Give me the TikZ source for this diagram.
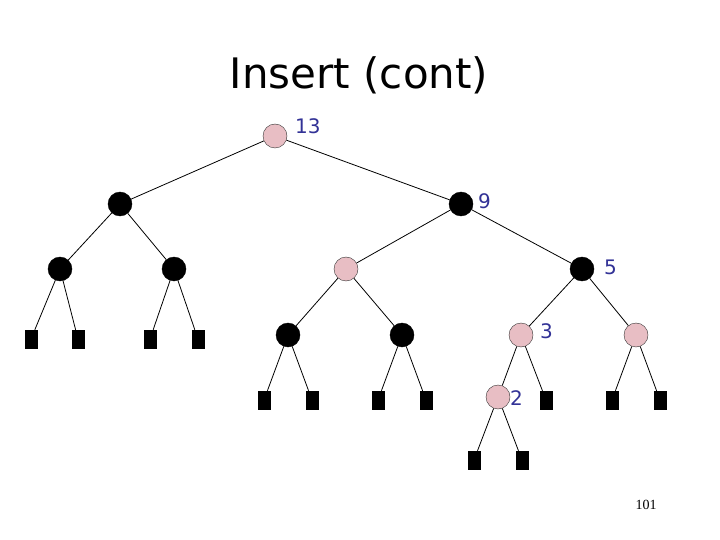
\documentclass[tikz,border=0pt]{standalone}
\usepackage{fontspec}
\setmainfont{DejaVu Sans}
\newfontfamily\numfont{Liberation Serif}
\definecolor{pinkfill}{RGB}{232,190,196}
\definecolor{labblue}{RGB}{50,50,150}
\begin{document}
\begin{tikzpicture}[x=1pt,y=-1pt,
  blk/.style={circle,fill=black,draw=black,minimum size=24pt,inner sep=0pt},
  pnk/.style={circle,fill=pinkfill,draw=black!80,minimum size=24pt,inner sep=0pt},
  leaf/.style={rectangle,fill=black,draw=black,minimum width=12pt,minimum height=18pt,inner sep=0pt},
  lab/.style={anchor=west,text=labblue,font=\fontsize{20}{24}\selectfont,inner sep=0pt},
  edge/.style={draw=black,line width=0.8pt}]
\useasboundingbox (0,0) rectangle (720,540);
\node[font=\fontsize{42}{48}\selectfont] (title) at (359,75) {Insert (cont)};
% level 0
\node[pnk] (n13) at (275,136) {};
% level 1
\node[blk] (a) at (120,204) {};
\node[blk] (n9) at (461,204) {};
% level 2
\node[blk] (b) at (60,269) {};
\node[blk] (c) at (174,269) {};
\node[pnk] (d) at (346,269) {};
\node[blk] (n5) at (582,269) {};
% level 3
\node[leaf] (l1) at (31,339) {};
\node[leaf] (l2) at (78,339) {};
\node[leaf] (l3) at (150,339) {};
\node[leaf] (l4) at (198,339) {};
\node[blk] (e) at (288,335) {};
\node[blk] (f) at (402,335) {};
\node[pnk] (n3) at (521,335) {};
\node[pnk] (g) at (636,335) {};
% level 4
\node[leaf] (l5) at (264,400) {};
\node[leaf] (l6) at (312,400) {};
\node[leaf] (l7) at (378,400) {};
\node[leaf] (l8) at (426,400) {};
\node[pnk] (n2) at (498,397) {};
\node[leaf] (l9) at (546,400) {};
\node[leaf] (l10) at (612,400) {};
\node[leaf] (l11) at (660,400) {};
% level 5
\node[leaf] (l12) at (474,460) {};
\node[leaf] (l13) at (522,460) {};
% labels
\node[lab] (t13) at (295,126) {13};
\node[lab] (t9) at (478,201) {9};
\node[lab] (t5) at (604,267) {5};
\node[lab] (t3) at (540,331) {3};
\node[lab] (t2) at (510,398) {2};
\node[font=\numfont\fontsize{14}{16}\selectfont] (pg) at (646,505) {101};
% edges
\draw[edge] (n13) -- (a);
\draw[edge] (n13) -- (n9);
\draw[edge] (a) -- (b);
\draw[edge] (a) -- (c);
\draw[edge] (n9) -- (d);
\draw[edge] (n9) -- (n5);
\draw[edge] (b) -- (l1);
\draw[edge] (b) -- (l2);
\draw[edge] (c) -- (l3);
\draw[edge] (c) -- (l4);
\draw[edge] (d) -- (e);
\draw[edge] (d) -- (f);
\draw[edge] (n5) -- (n3);
\draw[edge] (n5) -- (g);
\draw[edge] (e) -- (l5);
\draw[edge] (e) -- (l6);
\draw[edge] (f) -- (l7);
\draw[edge] (f) -- (l8);
\draw[edge] (n3) -- (n2);
\draw[edge] (n3) -- (l9);
\draw[edge] (g) -- (l10);
\draw[edge] (g) -- (l11);
\draw[edge] (n2) -- (l12);
\draw[edge] (n2) -- (l13);
\end{tikzpicture}
\end{document}
